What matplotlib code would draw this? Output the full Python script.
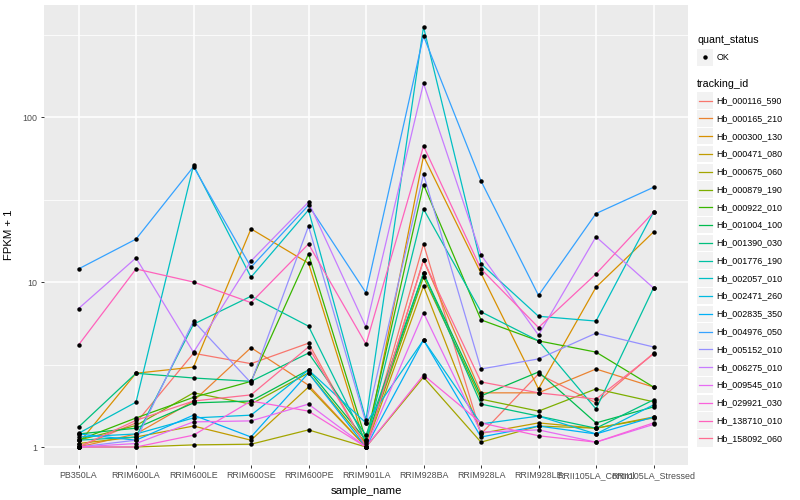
import matplotlib
matplotlib.use("Agg")

import matplotlib.pyplot as plt
from matplotlib.lines import Line2D
from matplotlib.patches import Rectangle
from matplotlib.ticker import FixedLocator, NullFormatter
import numpy as np

plt.rcParams["font.family"] = ["Liberation Sans", "DejaVu Sans"]

samples = ["PB350LA", "RRIM600LA", "RRIM600LE", "RRIM600SE", "RRIM600PE",
           "RRIM901LA", "RRIM928BA", "RRIM928LA", "RRIM928LE",
           "RRII105LA_Control", "RRII105LA_Stressed"]

tracking_ids = ["Hb_000116_590", "Hb_000165_210", "Hb_000300_130", "Hb_000471_080",
                "Hb_000675_060", "Hb_000879_190", "Hb_000922_010", "Hb_001004_100",
                "Hb_001390_030", "Hb_001776_190", "Hb_002057_010", "Hb_002471_260",
                "Hb_002835_350", "Hb_004976_050", "Hb_005152_010", "Hb_006275_010",
                "Hb_009545_010", "Hb_029921_030", "Hb_138710_010", "Hb_158092_060"]

# ggplot hue palette, 20 levels
colors = ["#F8766D", "#EA8331", "#D89000", "#C09B00", "#A3A500", "#7CAE00",
          "#39B600", "#00BB4E", "#00BF7D", "#00C1A3", "#00BFC4", "#00BAE0",
          "#00B0F6", "#35A2FF", "#9590FF", "#C77CFF", "#E76BF3", "#FA62DB",
          "#FF62BC", "#FF6C91"]

# FPKM + 1, one row per tracking_id, one column per sample
fpkm = [
    [1.00, 1.40, 3.70, 3.20, 4.26, 1.00, 17.0, 1.20, 2.77, 1.85, 3.70],
    [1.00, 1.20, 1.90, 4.00, 2.37, 1.00, 13.6, 2.13, 2.13, 2.97, 2.31],
    [1.05, 2.80, 3.05, 21.0, 13.0, 1.00, 58.0, 11.3, 2.25, 9.30, 20.1],
    [1.05, 1.15, 1.34, 1.10, 2.31, 1.00, 9.45, 1.21, 1.40, 1.30, 1.52],
    [1.00, 1.00, 1.03, 1.04, 1.27, 1.00, 2.65, 1.07, 1.34, 1.30, 1.50],
    [1.10, 1.35, 2.13, 1.82, 2.81, 1.05, 10.7, 1.95, 1.65, 2.25, 1.88],
    [1.10, 1.50, 2.00, 2.50, 14.8, 1.10, 39.0, 5.90, 4.40, 3.76, 2.31],
    [1.20, 1.30, 1.85, 1.90, 2.93, 1.10, 11.3, 2.04, 2.85, 1.40, 1.75],
    [1.32, 2.80, 2.62, 2.50, 3.71, 1.18, 11.3, 1.82, 1.54, 1.30, 1.93],
    [1.10, 1.15, 5.55, 8.20, 5.40, 1.07, 27.7, 6.60, 4.40, 1.70, 9.20],
    [1.21, 1.87, 51.0, 10.7, 27.3, 1.46, 352., 12.9, 6.20, 5.80, 26.5],
    [1.15, 1.20, 1.50, 1.56, 2.93, 1.40, 4.45, 1.38, 1.54, 1.20, 1.80],
    [1.20, 1.10, 1.56, 1.15, 2.81, 1.00, 4.45, 1.15, 1.34, 1.20, 1.52],
    [12.0, 18.2, 50.0, 12.3, 29.2, 8.60, 310., 41.0, 8.30, 26.0, 37.5],
    [1.00, 1.10, 5.80, 2.45, 21.8, 1.40, 45.0, 2.97, 3.42, 4.90, 4.04],
    [6.90, 14.0, 3.75, 13.4, 30.5, 5.33, 160., 14.6, 4.77, 18.8, 9.20],
    [1.00, 1.05, 1.42, 1.44, 1.82, 1.00, 6.50, 1.23, 1.27, 1.07, 1.37],
    [1.00, 1.00, 1.18, 1.90, 1.65, 1.00, 2.73, 1.40, 1.17, 1.07, 1.40],
    [4.15, 12.0, 10.0, 7.50, 17.0, 4.20, 66.7, 12.0, 5.30, 11.2, 26.5],
    [1.00, 1.45, 1.90, 2.07, 4.04, 1.00, 13.6, 2.48, 2.13, 1.95, 3.66],
]

W, H = 800, 500
fig = plt.figure(figsize=(8, 5), dpi=100, facecolor="white")
ax = fig.add_axes([44 / W, 1 - 465 / H, 644 / W, 460 / H])
ax.set_facecolor("#EBEBEB")

x = np.arange(len(samples))
for vals, col in zip(fpkm, colors):
    ax.plot(x, vals, color=col, lw=0.9, zorder=2)
for vals in fpkm:
    ax.plot(x, vals, "o", color="black", ms=2.2, mec="black", zorder=3, ls="none")

ax.set_yscale("log")
ax.set_ylim(10 ** -0.109, 10 ** 2.679)
ax.set_xlim(-0.6, len(samples) - 0.4)
ax.yaxis.set_major_locator(FixedLocator([1, 10, 100]))
ax.yaxis.set_minor_locator(FixedLocator([10 ** 0.5, 10 ** 1.5, 10 ** 2.5]))
ax.yaxis.set_minor_formatter(NullFormatter())
ax.set_yticklabels(["1", "10", "100"])
ax.set_xticks(x)
ax.set_xticklabels(samples)

ax.grid(which="major", color="white", lw=1.1, zorder=0)
ax.grid(which="minor", axis="y", color="white", lw=0.55, zorder=0)
ax.set_axisbelow(True)
for sp in ax.spines.values():
    sp.set_visible(False)
ax.tick_params(which="major", length=2.5, width=0.7, color="#333333",
               labelcolor="#4D4D4D", labelsize=6.4, pad=2)
ax.tick_params(which="minor", length=0)

ax.set_xlabel("sample_name", fontsize=8.2, labelpad=4)
ax.set_ylabel("FPKM + 1", fontsize=8.2, labelpad=6)

# legends drawn by hand, ggplot style
def fy(py):
    return 1 - py / H

key_x0, key_w, key_h = 697 / W, 16 / W, 16.5 / H
fig.text(697 / W, fy(40), "quant_status", fontsize=7.7, va="center", ha="left")
fig.add_artist(Rectangle((key_x0, fy(57.3) - key_h / 2), key_w, key_h,
                         transform=fig.transFigure, color="#F2F2F2", lw=0))
fig.add_artist(Line2D([key_x0 + key_w / 2], [fy(57.3)], marker="o", ms=2.2,
                      color="black", transform=fig.transFigure))
fig.text(716.7 / W, fy(57.3), "OK", fontsize=6.4, va="center", ha="left")

fig.text(697 / W, fy(84.3), "tracking_id", fontsize=7.7, va="center", ha="left")
for i, (tid, col) in enumerate(zip(tracking_ids, colors)):
    cy = fy(100.7 + i * 17.77)
    fig.add_artist(Rectangle((key_x0, cy - key_h / 2), key_w, key_h,
                             transform=fig.transFigure, color="#F2F2F2", lw=0))
    fig.add_artist(Line2D([key_x0 + 1.5 / W, key_x0 + key_w - 1.5 / W], [cy, cy],
                          color=col, lw=0.9, transform=fig.transFigure))
    fig.text(716.7 / W, cy, tid, fontsize=6.4, va="center", ha="left")

fig.savefig("out.png", dpi=100)
